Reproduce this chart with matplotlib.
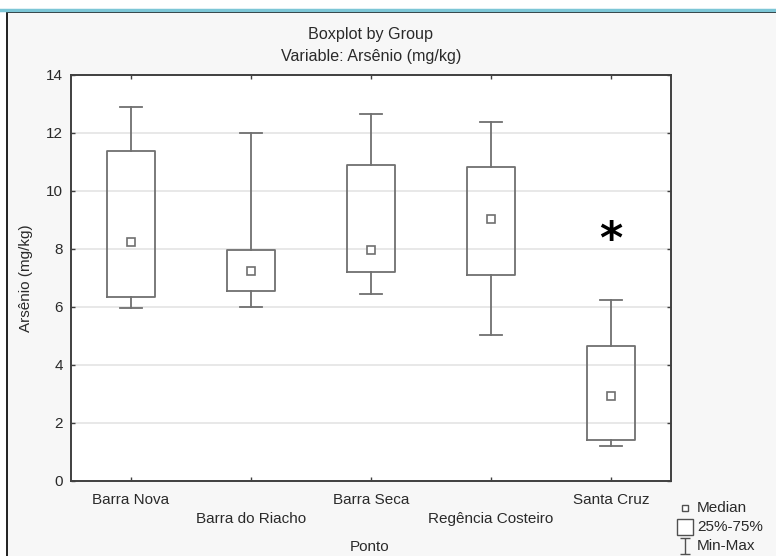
import matplotlib
matplotlib.use("Agg")
import matplotlib.pyplot as plt
import matplotlib.lines as mlines
import matplotlib.patches as mpatches
from matplotlib.path import Path

plt.rcParams['font.family'] = ['Liberation Sans', 'DejaVu Sans']

# Data
pontos = ["Barra Nova", "Barra do Riacho", "Barra Seca", "Regência Costeiro", "Santa Cruz"]
minimo = [5.97, 6.01, 6.46, 5.03, 1.19]
q1 = [6.34, 6.54, 7.19, 7.11, 1.40]
mediana = [8.23, 7.23, 7.98, 9.03, 2.92]
q3 = [11.39, 7.98, 10.90, 10.83, 4.64]
maximo = [12.90, 12.00, 12.66, 12.37, 6.25]
asterisco_y = 8.3  # marker above Santa Cruz

W, H = 776, 556
FS = 11
fig = plt.figure(figsize=(W / 100, H / 100), dpi=100, facecolor='white')

def px(x, y):
    # pixel coords (top-left origin) -> figure fraction
    return x / W, 1 - y / H

# Window frame like the original screenshot
fig.add_artist(mpatches.Rectangle(px(7, 600), 800 / W, 588 / H, transform=fig.transFigure,
                                  facecolor='#f7f7f7', edgecolor='#202020', linewidth=1.4, zorder=0))
fig.add_artist(mlines.Line2D([0, 1], [1 - 9.5 / H] * 2, transform=fig.transFigure,
                             color='#7cc6d6', linewidth=2.5, zorder=1))

ax = fig.add_axes([71 / W, 1 - 481 / H, 600 / W, 406 / H])
ax.set_facecolor('white')

grey = '#707070'
stats = []
for i in range(len(pontos)):
    stats.append(dict(whislo=minimo[i], q1=q1[i], med=mediana[i], q3=q3[i],
                      whishi=maximo[i], fliers=[]))
pos = list(range(1, len(pontos) + 1))
ax.bxp(stats, positions=pos, widths=0.4, showfliers=False,
       boxprops=dict(color=grey, linewidth=1.3),
       whiskerprops=dict(color=grey, linewidth=1.3),
       capprops=dict(color=grey, linewidth=1.3),
       medianprops=dict(linewidth=0), capwidths=0.19, zorder=3)
ax.plot(pos, mediana, 's', markersize=5.5, markerfacecolor='white',
        markeredgecolor=grey, markeredgewidth=1.2, linestyle='None', zorder=4)
ax.text(5, asterisco_y, '*', ha='center', va='center', fontsize=32,
        fontweight='bold', family='DejaVu Sans', color='black')

ax.set_xlim(0.5, 5.5)
ax.set_ylim(0, 14)
ax.set_yticks(range(0, 15, 2))
ax.set_xticks(pos)
ax.set_xticklabels([])
ax.yaxis.grid(True, color='#e4e4e4', linewidth=1.2)
ax.set_axisbelow(True)
for s in ax.spines.values():
    s.set_color('#404040')
    s.set_linewidth(1.4)
ax.tick_params(axis='both', direction='in', length=3, width=1, color='#404040',
               top=True, right=True, labelsize=FS, labelcolor='#2a2a2a', pad=6)

# staggered category labels
for i, nome in enumerate(pontos):
    yoff = -0.047 if i % 2 == 0 else -0.094
    ax.text(pos[i], yoff, nome, transform=ax.get_xaxis_transform(), ha='center',
            va='center', fontsize=FS, color='#2a2a2a')

ax.set_ylabel('Arsênio (mg/kg)', fontsize=FS, color='#2a2a2a', labelpad=9)
fig.text(*px(370, 547), 'Ponto', ha='center', va='center', fontsize=FS, color='#2a2a2a')
fig.text(*px(371, 34), 'Boxplot by Group', ha='center', va='center', fontsize=11.6, color='#2a2a2a')
fig.text(*px(371, 57), 'Variable: Arsênio (mg/kg)', ha='center', va='center', fontsize=11.6,
         color='#2a2a2a')

# legend drawn by hand
ibeam = Path([(-0.6, 1), (0.6, 1), (0, 1), (0, -1), (-0.6, -1), (0.6, -1)],
             [Path.MOVETO, Path.LINETO, Path.MOVETO, Path.LINETO, Path.MOVETO, Path.LINETO])
leg_items = [('s', 4, 'Median', 508), ('s', 11, '25%-75%', 527), (ibeam, 11, 'Min-Max', 546)]
for mk, ms, lab, yy in leg_items:
    fig.add_artist(mlines.Line2D([685 / W], [1 - yy / H], transform=fig.transFigure,
                                 marker=mk, markersize=ms, markerfacecolor='white',
                                 markeredgecolor='#505050', markeredgewidth=1.0, linestyle='None'))
    fig.text(*px(697, yy), lab, ha='left', va='center', fontsize=FS, color='#2a2a2a')

fig.savefig('out.png', dpi=100, facecolor=fig.get_facecolor())
